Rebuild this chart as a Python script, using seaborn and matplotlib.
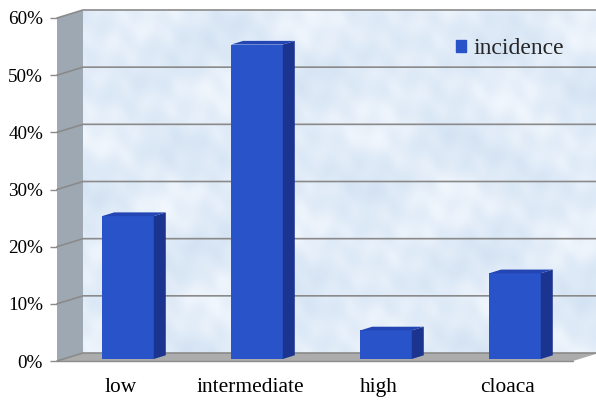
import numpy as np
import matplotlib
matplotlib.use("Agg")
import matplotlib.pyplot as plt
import seaborn as sns
from matplotlib.patches import Polygon, Rectangle
from matplotlib.transforms import ScaledTranslation, IdentityTransform
from matplotlib.colors import LinearSegmentedColormap

categories = ["low", "intermediate", "high", "cloaca"]
incidence = [25, 55, 5, 15]
tick_values = [0, 10, 20, 30, 40, 50, 60]
tick_labels = ["0%", "10%", "20%", "30%", "40%", "50%", "60%"]
series_name = "incidence"

sns.set_theme(style="white")
plt.rcParams["font.family"] = ["Liberation Serif", "DejaVu Serif"]

DPI = 100
W, H = 596, 401
fig = plt.figure(figsize=(W / DPI, H / DPI), dpi=DPI)
fig.patch.set_facecolor("white")

# front plane of the chart box (pixels from the top-left corner)
left, right, top, bottom = 57, 573, 18, 361
ax = fig.add_axes([left / W, 1 - bottom / H, (right - left) / W, (bottom - top) / H])

FRONT = "#2953c8"
SIDE = "#1b3490"
TOP = "#2446b4"
GRID = "#8a8a8a"

sns.barplot(x=categories, y=incidence, color=FRONT, saturation=1, width=0.4,
            linewidth=0, ax=ax, zorder=4)
ax.set_xlim(-0.496, 3.504)
ax.set_ylim(0, 60)
ax.set_xlabel("")
ax.set_ylabel("")
ax.patch.set_alpha(0)
for s in ax.spines.values():
    s.set_visible(False)
ax.set_yticks(tick_values)
ax.set_yticklabels(tick_labels)
ax.tick_params(axis="y", length=5, width=1, color=GRID, pad=5, labelsize=13.8,
               left=True, labelcolor="black")
ax.tick_params(axis="x", length=0, pad=12.5, labelsize=15.4, labelcolor="black")

# depth of the box walls and of the bars, in display pixels
DX, DY = 26, 8
BDX, BDY = 12, 3.7
SHIFT_X, SHIFT_Y = 7, 2


def disp(points):
    return ax.transAxes.transform(points)


def add_poly(pts, **kw):
    ax.add_patch(Polygon(pts, closed=True, transform=IdentityTransform(),
                         clip_on=False, **kw))


# textured back wall
fl, fb = disp([(0, 0)])[0]
fr, ft = disp([(1, 1)])[0]
wall_w, wall_h = int(round(fr - fl)), int(round(ft - fb))
yy, xx = np.mgrid[0:wall_h, 0:wall_w].astype(float)
tex = (np.sin(xx / 23 + 2.0 * np.sin(yy / 31)) + np.sin(yy / 17 + 1.5 * np.cos(xx / 41))
       + 0.6 * np.sin((xx + 2 * yy) / 11 + np.sin(xx / 7))
       + 0.4 * np.sin((3 * xx - yy) / 13))
tex = (tex - tex.min()) / (tex.max() - tex.min())
wall_cmap = LinearSegmentedColormap.from_list("wall", ["#d4e3f3", "#e1ecf8", "#f2f7fd"])
rgba = wall_cmap(tex)
fig.figimage(rgba, xo=int(round(fl + DX)), yo=int(round(fb + DY)), origin="lower", zorder=-1)

# left side wall
front_l = disp([(0, 0), (0, 1)])
add_poly([front_l[0], front_l[1], front_l[1] + (DX, DY), front_l[0] + (DX, DY)],
         facecolor="#9ea8b3", edgecolor="none", zorder=1)

# floor
front_b = disp([(0, 0), (1, 0)])
add_poly([front_b[0], front_b[1], front_b[1] + (DX, DY), front_b[0] + (DX, DY)],
         facecolor="#acacac", edgecolor="none", zorder=1)
ax.plot(*zip(*front_b), transform=IdentityTransform(), color="#8c8c8c", lw=1,
        clip_on=False, zorder=1.5)

# gridlines on back wall and side wall
for v in tick_values:
    a = ax.transData.transform((ax.get_xlim()[0], v))
    b = ax.transData.transform((ax.get_xlim()[1], v))
    ax.plot([a[0], a[0] + DX, b[0] + DX], [a[1], a[1] + DY, b[1] + DY],
            transform=IdentityTransform(), color=GRID, lw=1.2, clip_on=False, zorder=2)

# bars: shift front faces into the box and add side and top faces
shift = ScaledTranslation(SHIFT_X / DPI, SHIFT_Y / DPI, fig.dpi_scale_trans)
for p in list(ax.patches):
    if not isinstance(p, Rectangle) or p.get_height() <= 0:
        continue
    p.set_transform(ax.transData + shift)
    x0, y0 = ax.transData.transform((p.get_x(), p.get_y())) + (SHIFT_X, SHIFT_Y)
    x1, y1 = ax.transData.transform((p.get_x() + p.get_width(),
                                     p.get_y() + p.get_height())) + (SHIFT_X, SHIFT_Y)
    add_poly([(x1, y0), (x1 + BDX, y0 + BDY), (x1 + BDX, y1 + BDY), (x1, y1)],
             facecolor=SIDE, edgecolor="none", zorder=4)
    add_poly([(x0, y1), (x1, y1), (x1 + BDX, y1 + BDY), (x0 + BDX, y1 + BDY)],
             facecolor=TOP, edgecolor="none", zorder=4)

ax.legend(handles=[Rectangle((0, 0), 1, 1, color=FRONT)], labels=[series_name],
          loc="upper left", bbox_to_anchor=(456 / W, 1 - 38.5 / H),
          bbox_transform=fig.transFigure, frameon=False, handlelength=0.42,
          handleheight=0.42, handletextpad=0.3, borderpad=0, borderaxespad=0,
          fontsize=17)

fig.savefig("out.png", dpi=DPI)
